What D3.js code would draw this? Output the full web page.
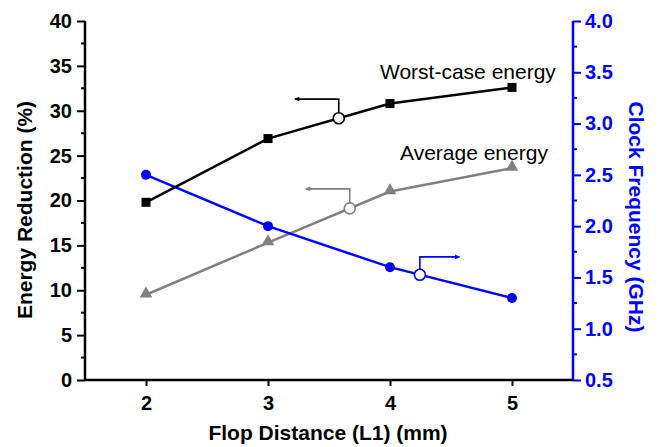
<!DOCTYPE html>
<meta charset="utf-8">
<style>
  body { margin: 0; background: #fff; }
  text { font-family: "Liberation Sans", Arial, sans-serif; }
  .tick text { font-size: 20px; font-weight: bold; }
  .title { font-size: 21px; font-weight: bold; }
  .note { font-size: 21px; }
</style>
<body>
<svg width="671" height="447"></svg>
<script src="https://d3js.org/d3.v7.min.js"></script>
<script>
  // distances on the x axis (mm)
  let distance = [2, 3, 4, 5];
  // energy reduction in %
  let worst_case = [19.8, 26.9, 30.8, 32.6];
  let average = [9.5, 15.3, 21.0, 23.6];
  // clock frequency in GHz
  let clock = [2.5, 2.0, 1.6, 1.3];

  let left_ticks = [0, 5, 10, 15, 20, 25, 30, 35, 40];
  let right_ticks = [0.5, 1.0, 1.5, 2.0, 2.5, 3.0, 3.5, 4.0];

  // arrow callouts: where the hollow circle sits, where the arrow bends, where it points to
  let callouts = [
    { series: "worst", at: 3.58, bend: 31.3, to: 3.22 },
    { series: "average", at: 3.67, bend: 21.3, to: 3.31 },
    { series: "clock", at: 4.245, bend: 1.70, to: 4.57 }
  ];

  var BLACK = "#000", GRAY = "#808080", BLUE = "#0000ff";

  var svg = d3.select("svg");
  var m_left = 85, m_right = 573, m_top = 21, m_bottom = 380;

  var x = d3.scaleLinear().domain([1.5, 5.5]).range([m_left, m_right]);
  var yL = d3.scaleLinear().domain([0, 40]).range([m_bottom, m_top]);
  var yR = d3.scaleLinear().domain([0.5, 4.0]).range([m_bottom, m_top]);

  var defs = svg.append("defs");
  [["black", BLACK], ["gray", GRAY], ["blue", BLUE]].forEach(function(c) {
    defs.append("marker")
      .attr("id", "arrow-" + c[0])
      .attr("viewBox", "0 0 10 10")
      .attr("refX", 9).attr("refY", 5)
      .attr("markerWidth", 9).attr("markerHeight", 5)
      .attr("markerUnits", "userSpaceOnUse")
      .attr("orient", "auto")
      .append("path").attr("d", "M0,0L10,5L0,10z").attr("fill", c[1]);
  });

  // axes
  var gL = svg.append("g").attr("transform", "translate(" + m_left + ",0)")
    .call(d3.axisLeft(yL).tickValues(left_ticks).tickSize(8).tickPadding(5).tickFormat(d3.format("d")));
  gL.append("g").selectAll("line").data(d3.range(2.5, 40, 5)).enter().append("line")
    .attr("x1", -4).attr("x2", 0).attr("y1", yL).attr("y2", yL).attr("stroke", BLACK).attr("stroke-width", 2);

  var gR = svg.append("g").attr("transform", "translate(" + m_right + ",0)")
    .call(d3.axisRight(yR).tickValues(right_ticks).tickSize(8).tickPadding(4).tickFormat(d3.format(".1f")));
  gR.append("g").selectAll("line").data(d3.range(0.75, 4.0, 0.5)).enter().append("line")
    .attr("x1", 0).attr("x2", 4).attr("y1", yR).attr("y2", yR).attr("stroke", BLUE).attr("stroke-width", 2);

  var gB = svg.append("g").attr("transform", "translate(0," + m_bottom + ")")
    .call(d3.axisBottom(x).tickValues(distance).tickSize(6).tickPadding(10).tickFormat(d3.format("d")));

  [gL, gR, gB].forEach(function(g) {
    g.select(".domain").attr("stroke-width", 2.5);
    g.selectAll(".tick line").attr("stroke-width", 2);
  });
  gL.select(".domain").attr("d", "M0," + m_top + "V" + m_bottom);
  gR.select(".domain").attr("d", "M0," + m_top + "V" + m_bottom);
  gB.select(".domain").attr("d", "M" + m_left + ",0H" + m_right);
  gL.selectAll("text").attr("fill", BLACK);
  gB.selectAll("text").attr("fill", BLACK);
  gR.selectAll(".domain, .tick line").attr("stroke", BLUE);
  gR.selectAll("text").attr("fill", BLUE);

  // axis titles
  svg.append("text").attr("class", "title")
    .attr("transform", "translate(32,210) rotate(-90)")
    .attr("text-anchor", "middle").text("Energy Reduction (%)");
  svg.append("text").attr("class", "title")
    .attr("transform", "translate(629,217) rotate(90)")
    .attr("text-anchor", "middle").attr("fill", BLUE).text("Clock Frequency (GHz)");
  svg.append("text").attr("class", "title")
    .attr("x", 328).attr("y", 440)
    .attr("text-anchor", "middle").text("Flop Distance (L1) (mm)");

  var series = {
    worst: { values: worst_case, y: yL, color: BLACK, marker: "arrow-black" },
    average: { values: average, y: yL, color: GRAY, marker: "arrow-gray" },
    clock: { values: clock, y: yR, color: BLUE, marker: "arrow-blue" }
  };

  function draw_line(s) {
    var pts = distance.map(function(d, i) { return [d, s.values[i]]; });
    svg.append("path").datum(pts)
      .attr("fill", "none").attr("stroke", s.color).attr("stroke-width", 2.5)
      .attr("d", d3.line().x(function(d) { return x(d[0]); }).y(function(d) { return s.y(d[1]); }));
    return pts;
  }

  var wp = draw_line(series.average);
  var cp = draw_line(series.clock);
  var bp = draw_line(series.worst);

  svg.append("g").selectAll("path").data(wp).enter().append("path")
    .attr("d", d3.symbol().type(d3.symbolTriangle).size(70))
    .attr("transform", function(d) { return "translate(" + x(d[0]) + "," + (yL(d[1]) - 1) + ")"; })
    .attr("fill", GRAY);
  svg.append("g").selectAll("circle").data(cp).enter().append("circle")
    .attr("cx", function(d) { return x(d[0]); }).attr("cy", function(d) { return yR(d[1]); })
    .attr("r", 5).attr("fill", BLUE);
  svg.append("g").selectAll("rect").data(bp).enter().append("rect")
    .attr("x", function(d) { return x(d[0]) - 4.5; }).attr("y", function(d) { return yL(d[1]) - 4.5; })
    .attr("width", 9).attr("height", 9).attr("fill", BLACK);

  // callouts
  function interp(vals, xv) {
    var i = Math.min(Math.floor(xv) - 2, vals.length - 2);
    var t = xv - distance[i];
    return vals[i] + (vals[i + 1] - vals[i]) * t;
  }
  callouts.forEach(function(c) {
    var s = series[c.series];
    var cx = x(c.at), cy = s.y(interp(s.values, c.at)), by = s.y(c.bend);
    svg.append("path")
      .attr("d", "M" + cx + "," + (cy - 5.5) + "V" + by + "H" + x(c.to))
      .attr("fill", "none").attr("stroke", s.color).attr("stroke-width", 1.6)
      .attr("marker-end", "url(#" + s.marker + ")");
    svg.append("circle").attr("cx", cx).attr("cy", cy).attr("r", 5.5)
      .attr("fill", "#fff").attr("stroke", s.color).attr("stroke-width", 1.6);
  });

  svg.append("text").attr("class", "note").attr("x", 380).attr("y", 79).text("Worst-case energy");
  svg.append("text").attr("class", "note").attr("x", 400).attr("y", 160).text("Average energy");
</script>
</body>
